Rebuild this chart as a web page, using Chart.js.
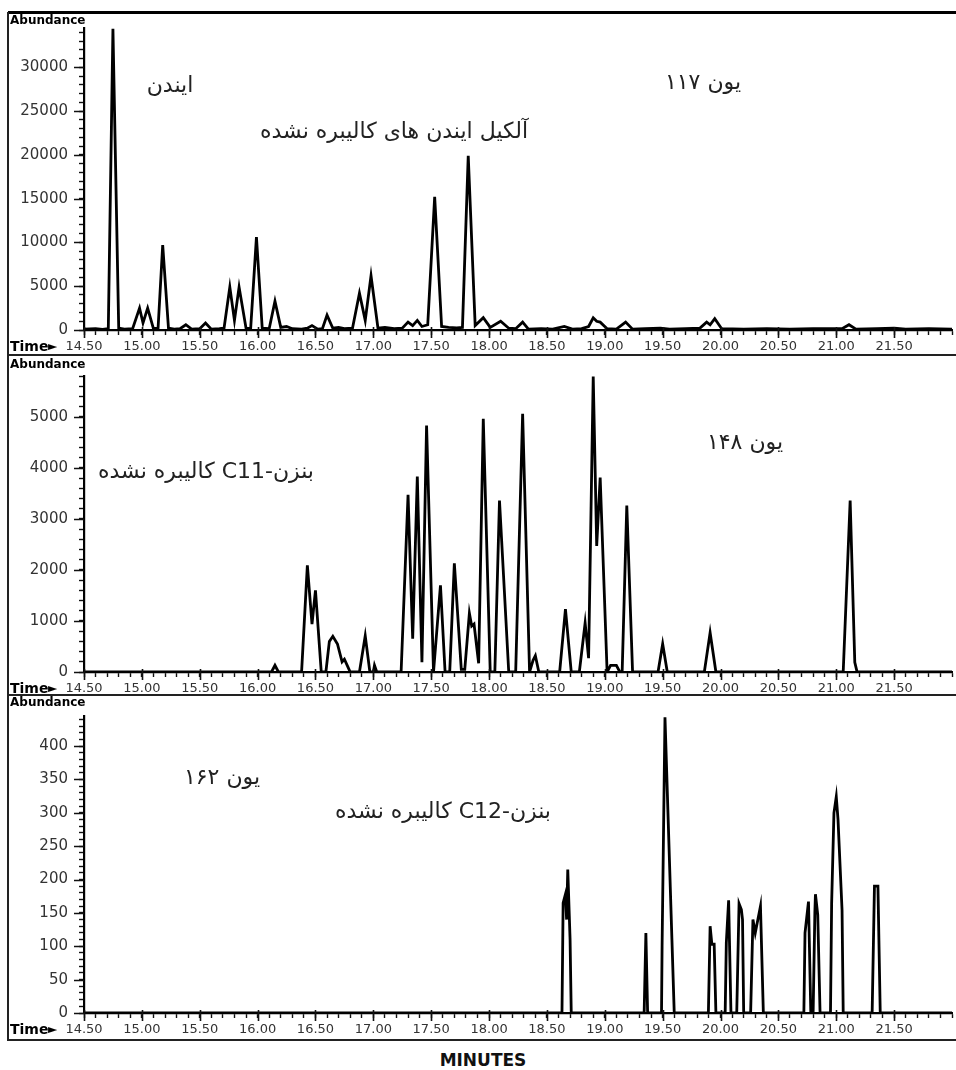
<!DOCTYPE html>
<html>
<head>
<meta charset="utf-8">
<script src="https://cdn.jsdelivr.net/npm/chart.js@4.4.1/dist/chart.umd.min.js"></script>
<style>
  body { margin: 0; background: #fff; width: 956px; height: 1070px; position: relative; overflow: hidden; }
  canvas { position: absolute; left: 0; }
  .rule { position: absolute; left: 8px; width: 948px; height: 0; border-top: 2px solid #222; z-index: 2; }
  .vrule { position: absolute; left: 7px; top: 12px; width: 0; height: 1029px; border-left: 2px solid #222; z-index: 2; }
  #minutes { position: absolute; left: 383px; width: 200px; top: 1050px; text-align: center;
    font: bold 17px "DejaVu Sans", sans-serif; color: #111; }
</style>
</head>
<body>
<div class="rule" style="top:11px;border-top-width:3px;border-color:#000"></div>
<div class="rule" style="top:354px"></div>
<div class="rule" style="top:694px"></div>
<div class="rule" style="top:1039px"></div>
<div class="vrule"></div>
<canvas id="c117" width="956" height="356" style="top:0"></canvas>
<canvas id="c148" width="956" height="342" style="top:356px"></canvas>
<canvas id="c162" width="956" height="344" style="top:696px"></canvas>
<div id="minutes">MINUTES</div>
<script>
'use strict';
// کروماتوگرام یونی — سه پنل (یون ۱۱۷، ۱۴۸، ۱۶۲)، زمان بر حسب دقیقه

const xLabels = ['14.50', '15.00', '15.50', '16.00', '16.50', '17.00', '17.50', '18.00',
  '18.50', '19.00', '19.50', '20.00', '20.50', '21.00', '21.50'];

// یون ۱۱۷
const t117 = [14.50, 14.60, 14.66, 14.71, 14.75, 14.80, 14.85, 14.92, 14.98, 15.01, 15.05, 15.10,
  15.14, 15.18, 15.23, 15.28, 15.33, 15.38, 15.43, 15.50, 15.55, 15.60, 15.67, 15.71, 15.76, 15.80,
  15.84, 15.90, 15.94, 15.99, 16.04, 16.10, 16.15, 16.20, 16.25, 16.30, 16.38, 16.43, 16.47, 16.52,
  16.56, 16.60, 16.65, 16.70, 16.75, 16.82, 16.88, 16.93, 16.98, 17.04, 17.10, 17.18, 17.25, 17.30,
  17.34, 17.38, 17.42, 17.47, 17.53, 17.59, 17.65, 17.72, 17.77, 17.82, 17.88, 17.95, 18.01, 18.10,
  18.17, 18.23, 18.29, 18.34, 18.45, 18.55, 18.65, 18.72, 18.80, 18.86, 18.90, 18.93, 18.96, 19.02,
  19.10, 19.18, 19.24, 19.35, 19.48, 19.56, 19.70, 19.82, 19.88, 19.91, 19.95, 20.01, 20.20, 20.40,
  20.60, 20.80, 21.05, 21.11, 21.17, 21.35, 21.50, 21.60, 21.80, 22.00];
const a117 = [100, 150, 80, 150, 34400, 200, 100, 150, 2500, 800, 2500, 150,
  200, 9700, 200, 100, 150, 600, 100, 150, 800, 100, 150, 200, 4900, 1100,
  4900, 200, 150, 10600, 200, 150, 3300, 300, 400, 150, 100, 200, 500, 100,
  150, 1700, 200, 300, 150, 200, 4200, 1100, 6200, 200, 300, 150, 200, 900,
  500, 1100, 400, 600, 15200, 400, 300, 250, 300, 19900, 500, 1400, 300, 1000,
  200, 150, 900, 100, 150, 100, 400, 100, 150, 400, 1400, 1000, 900, 150,
  100, 900, 100, 150, 200, 100, 150, 200, 900, 600, 1300, 150, 100, 150,
  100, 150, 150, 600, 100, 150, 200, 100, 150, 100];
const y117 = [0, 5000, 10000, 15000, 20000, 25000, 30000];

// یون ۱۴۸
const t148 = [14.50, 16.12, 16.15, 16.18, 16.38, 16.43, 16.47, 16.50, 16.55, 16.59, 16.62, 16.65,
  16.69, 16.73, 16.75, 16.78, 16.80, 16.88, 16.93, 16.97, 17.00, 17.01, 17.03, 17.24, 17.30, 17.34,
  17.38, 17.42, 17.46, 17.52, 17.58, 17.62, 17.66, 17.70, 17.76, 17.79, 17.83, 17.85, 17.87, 17.91,
  17.95, 18.01, 18.05, 18.09, 18.17, 18.23, 18.29, 18.35, 18.38, 18.40, 18.43, 18.61, 18.66, 18.71,
  18.78, 18.83, 18.86, 18.90, 18.93, 18.96, 19.02, 19.05, 19.10, 19.13, 19.15, 19.19, 19.24, 19.46,
  19.50, 19.54, 19.86, 19.91, 19.96, 21.06, 21.12, 21.16, 21.18, 22.00];
const a148 = [0, 0, 130, 0, 0, 2090, 940, 1600, 0, 0, 600, 700,
  550, 200, 250, 100, 0, 0, 710, 0, 0, 130, 0, 0, 3470, 650,
  3830, 190, 4830, 0, 1700, 0, 0, 2130, 50, 50, 1150, 900, 940, 170,
  4960, 0, 0, 3360, 0, 0, 5060, 0, 230, 320, 0, 0, 1230, 0,
  0, 960, 270, 5790, 2470, 3810, 0, 130, 130, 0, 0, 3260, 0, 0,
  550, 0, 0, 770, 0, 0, 3360, 190, 0, 0];
const y148 = [0, 1000, 2000, 3000, 4000, 5000];

// یون ۱۶۲
const t162 = [14.50, 18.63, 18.64, 18.66, 18.67, 18.68, 18.70, 18.71, 19.34, 19.355, 19.37, 19.49,
  19.495, 19.52, 19.58, 19.60, 19.895, 19.91, 19.925, 19.945, 19.96, 20.04, 20.05, 20.07, 20.09,
  20.14, 20.16, 20.18, 20.19, 20.20, 20.26, 20.28, 20.30, 20.345, 20.37, 20.72, 20.73, 20.76, 20.78,
  20.80, 20.815, 20.82, 20.84, 20.86, 20.95, 20.96, 20.98, 21.00, 21.015, 21.05, 21.06, 21.31, 21.33,
  21.36, 21.38, 22.00];
const a162 = [0, 0, 165, 178, 140, 215, 110, 0, 0, 120, 0, 0,
  100, 443, 110, 0, 0, 130, 103, 103, 0, 0, 105, 169, 0,
  0, 164, 155, 140, 0, 0, 140, 120, 160, 0, 0, 120, 167, 0,
  0, 150, 178, 147, 0, 0, 164, 300, 324, 290, 154, 0, 0, 190,
  190, 0, 0];
const y162 = [0, 50, 100, 150, 200, 250, 300, 350, 400];

const notes117 = ['ایندن', 'یون ۱۱۷', 'آلکیل ایندن های کالیبره نشده'];
const notes148 = ['یون ۱۴۸', 'بنزن-C11 کالیبره نشده'];
const notes162 = ['یون ۱۶۲', 'بنزن-C12 کالیبره نشده'];

const FONT = '"DejaVu Sans", sans-serif';

function decor(p) {
  return {
    id: 'decor',
    afterDraw(chart) {
      const { ctx, chartArea: a, scales: { x, y } } = chart;
      ctx.save();
      // تیک‌های اصلی بلندتر
      ctx.strokeStyle = '#111';
      ctx.lineWidth = 1.6;
      ctx.beginPath();
      xLabels.forEach(l => {
        const px = Math.round(x.getPixelForValue(+l)) + 0.5;
        ctx.moveTo(px, a.bottom - 3); ctx.lineTo(px, a.bottom + 8);
      });
      p.yMajor.forEach(v => {
        const py = Math.round(y.getPixelForValue(v)) + 0.5;
        ctx.moveTo(a.left - 10, py); ctx.lineTo(a.left, py);
      });
      ctx.stroke();

      ctx.fillStyle = '#000';
      ctx.textAlign = 'left';
      ctx.textBaseline = 'top';
      ctx.font = 'bold 12px ' + FONT;
      ctx.fillText('Abundance', 10, p.abY);
      ctx.textBaseline = 'middle';
      ctx.font = 'bold 14px ' + FONT;
      ctx.fillText('Time', 10, a.bottom + 17);
      ctx.font = '12px ' + FONT;
      ctx.fillText('►', 48, a.bottom + 17);

      ctx.fillStyle = '#222';
      ctx.direction = 'rtl';
      ctx.textAlign = 'center';
      ctx.font = '22px ' + FONT;
      p.notes.forEach((txt, i) => {
        const [nx, ny] = p.pos[i];
        ctx.fillText(txt, nx, ny - p.top);
      });
      ctx.restore();
    },
  };
}

function panel(id, times, abund, p) {
  const pts = times.map((t, i) => ({ x: t, y: abund[i] }));
  new Chart(document.getElementById(id), {
    type: 'line',
    data: { datasets: [{ data: pts, borderColor: '#000', borderWidth: 2.8, pointRadius: 0, tension: 0, fill: false }] },
    plugins: [decor(p)],
    options: {
      responsive: false, animation: false, events: [],
      layout: { padding: { left: 8, right: 4, top: p.padTop, bottom: p.padBottom } },
      plugins: { legend: { display: false }, tooltip: { enabled: false } },
      scales: {
        x: {
          type: 'linear', min: 14.5, max: 22,
          afterBuildTicks: s => { const tk = []; for (let k = 0; k <= 75; k++) tk.push({ value: 14.5 + k / 10 }); s.ticks = tk; },
          afterFit: s => { s.height = 26; },
          ticks: {
            autoSkip: false, maxRotation: 0, minRotation: 0, padding: 4, color: '#333',
            font: { family: FONT, size: 13 },
            callback: v => xLabels.find(l => Math.abs(+l - v) < 1e-6) || '',
          },
          grid: { drawOnChartArea: false, drawTicks: true, tickLength: 5, tickColor: '#111', tickWidth: 1.4 },
          border: { display: true, color: '#000', width: 2.2 },
        },
        y: {
          min: 0, max: p.yMax,
          afterBuildTicks: s => { const tk = []; for (let v = 0; v <= p.yMax; v += p.minor) tk.push({ value: v }); s.ticks = tk; },
          afterFit: s => { s.width = 76; },
          ticks: {
            autoSkip: false, padding: 11, color: '#333',
            font: { family: FONT, size: 15 },
            callback: v => p.yMajor.includes(v) ? String(v) : '',
          },
          grid: { drawOnChartArea: false, drawTicks: true, tickLength: 5, tickColor: '#111', tickWidth: 1.4 },
          border: { display: true, color: '#000', width: 2.2 },
        },
      },
    },
  });
}

panel('c117', t117, a117, { top: 0, padTop: 28, padBottom: 0, yMax: 34500, minor: 1000, yMajor: y117, abY: 15,
  notes: notes117, pos: [[170, 86], [703, 83], [394, 132]] });
panel('c148', t148, a148, { top: 356, padTop: 13, padBottom: 0, yMax: 5800, minor: 200, yMajor: y148, abY: 3,
  notes: notes148, pos: [[745, 443], [206, 472]] });
panel('c162', t162, a162, { top: 696, padTop: 11, padBottom: 1, yMax: 445, minor: 10, yMajor: y162, abY: 1,
  notes: notes162, pos: [[222, 778], [443, 812]] });
</script>
</body>
</html>
